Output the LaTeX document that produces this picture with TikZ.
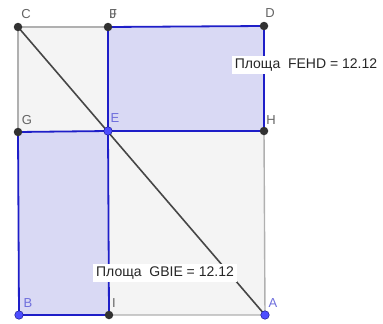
\documentclass[tikz,border=0pt]{standalone}
\usepackage{fontspec}
\setmainfont{Liberation Sans}
\usepackage{xcolor}
\definecolor{ggray}{RGB}{176,176,176}
\definecolor{gfill}{RGB}{244,244,244}
\definecolor{gblue}{RGB}{30,30,200}
\definecolor{gbluefill}{RGB}{217,217,244}
\definecolor{gdark}{RGB}{70,70,70}
\definecolor{gpt}{RGB}{50,50,50}
\definecolor{gptblue}{RGB}{77,77,255}
\definecolor{glabel}{RGB}{100,100,100}
\definecolor{glabelblue}{RGB}{110,110,220}
\usetikzlibrary{positioning,calc}

\begin{document}
\begin{tikzpicture}[x=1pt, y=-1pt,
  seg/.style={draw=ggray, line width=1.4pt},
  bseg/.style={draw=gblue, line width=1.8pt},
  diag/.style={draw=gdark, line width=1.6pt},
  dpt/.style={circle, fill=gpt, inner sep=0pt, minimum size=8.5pt},
  bpt/.style={circle, fill=gptblue, draw=gblue!70!black, line width=0.5pt, inner sep=0pt, minimum size=8.5pt},
  plab/.style={font=\fontsize{13}{13}\selectfont, text=glabel, inner sep=0pt},
  blab/.style={font=\fontsize{13}{13}\selectfont, text=glabelblue, inner sep=0pt},
  area/.style={fill=white, font=\fontsize{14}{14}\selectfont, text=black!85, inner sep=3pt}
]
\useasboundingbox (0,0) rectangle (383,324);

% Points
\coordinate (C) at (18,27);
\coordinate (F) at (108,27);
\coordinate (D) at (264,26);
\coordinate (G) at (18,132);
\coordinate (E) at (108,131);
\coordinate (H) at (264,131);
\coordinate (B) at (19,315);
\coordinate (I) at (109,315);
\coordinate (A) at (265,315);

% Fills
\fill[gfill] (C) -- (D) -- (A) -- (B) -- cycle;
\fill[gbluefill] (F) -- (E) -- (H) -- (D) -- cycle;
\fill[gbluefill] (G) -- (B) -- (I) -- (E) -- cycle;

% Outer edges
\draw[seg] (G) -- (C) -- (F);
\draw[seg] (H) -- (A) -- (I);

% Polygons
\draw[bseg] (F) -- (E) -- (H) -- (D) -- cycle;
\draw[bseg] (G) -- (B) -- (I) -- (E) -- cycle;

% Diagonal
\draw[diag] (C) -- (A);

% Area labels
\node[area] (sFEHD) at (306,65) {Площа\ \ FEHD = 12.12};
\node[area] (sGBIE) at (165,273) {Площа\ \ GBIE = 12.12};

% Dots
\node[dpt] (pC) at (C) {};
\node[dpt] (pF) at (F) {};
\node[dpt] (pD) at (D) {};
\node[dpt] (pG) at (G) {};
\node[dpt] (pH) at (H) {};
\node[dpt] (pI) at (I) {};
\node[bpt] (pE) at (E) {};
\node[bpt] (pB) at (B) {};
\node[bpt] (pA) at (A) {};

% Point names
\node[plab] (lC) at (26,14) {C};
\node[plab] (lF) at (113,14) {F};
\node[plab] (lJ) at (113,14) {J};
\node[plab] (lD) at (270,13) {D};
\node[plab] (lG) at (27,120) {G};
\node[blab] (lE) at (115,118) {E};
\node[plab] (lH) at (271,120) {H};
\node[blab] (lB) at (28,303) {B};
\node[plab] (lI) at (114,303) {I};
\node[blab] (lA) at (273,303) {A};
\end{tikzpicture}
\end{document}
